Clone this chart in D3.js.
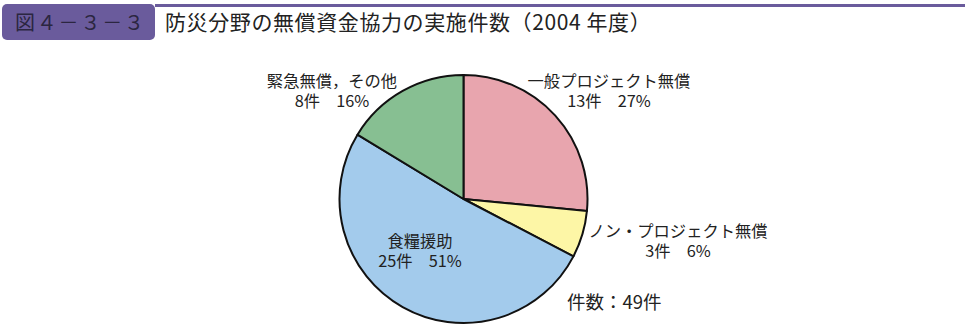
<!DOCTYPE html>
<html>
<head>
<meta charset="utf-8">
<script src="https://cdn.jsdelivr.net/npm/d3@7/dist/d3.min.js"></script>
<style>
  html, body { margin: 0; padding: 0; background: #fff; }
  svg { display: block; }
  text { font-family: "Noto Sans CJK JP", "Noto Sans", sans-serif; }
</style>
</head>
<body>
<svg id="chart" width="970" height="334"></svg>
<script>
// Disaster-prevention grant aid, number of projects (FY2004)
const categories = ["一般プロジェクト無償", "ノン・プロジェクト無償", "食糧援助", "緊急無償，その他"];
const counts = [13, 3, 25, 8];
const percents = [27, 6, 51, 16];
const colors = ["#e8a5ae", "#fdf6a6", "#a3cbec", "#87bf92"];
const totalLabel = "件数：49件";
const figNumber = "図４－３－３";
const title = "防災分野の無償資金協力の実施件数（2004 年度）";

const svg = d3.select("#chart");

// header band
svg.append("rect").attr("x", 155).attr("y", 4).attr("width", 810).attr("height", 3).attr("fill", "#6a5b9c");
svg.append("rect").attr("x", 2).attr("y", 4).attr("width", 153).attr("height", 36).attr("rx", 5).attr("fill", "#6a5b9c");
svg.append("text").attr("x", 15).attr("y", 30).attr("font-size", 20).attr("letter-spacing", 1.8)
  .attr("fill", "#2b2640").text(figNumber);
svg.append("text").attr("x", 165).attr("y", 30).attr("font-size", 21).attr("letter-spacing", 0.6)
  .attr("fill", "#222").text(title);

// pie
const cx = 463.5, cy = 199, r = 124;
const pie = d3.pie().sort(null).value(d => d.count);
const arc = d3.arc().innerRadius(0).outerRadius(r);
const data = categories.map((c, i) => ({ name: c, count: counts[i], pct: percents[i], color: colors[i] }));

const g = svg.append("g").attr("transform", `translate(${cx},${cy})`);
g.selectAll("path").data(pie(data)).join("path")
  .attr("d", arc)
  .attr("fill", d => d.data.color)
  .attr("stroke", "#111")
  .attr("stroke-width", 2)
  .attr("stroke-linejoin", "round");

// slice labels
const labelPos = [
  [609, 87], [678, 237], [420, 247], [332, 87]
];
data.forEach((d, i) => {
  const [x, y] = labelPos[i];
  const t = svg.append("text").attr("text-anchor", "middle").attr("font-size", 16.3).attr("fill", "#222");
  t.append("tspan").attr("x", x).attr("y", y).text(d.name);
  t.append("tspan").attr("x", x).attr("y", y + 19.5).text(`${d.count}件　${d.pct}%`);
});

svg.append("text").attr("x", 567).attr("y", 309).attr("font-size", 18.5).attr("fill", "#222").text(totalLabel);
</script>
</body>
</html>
